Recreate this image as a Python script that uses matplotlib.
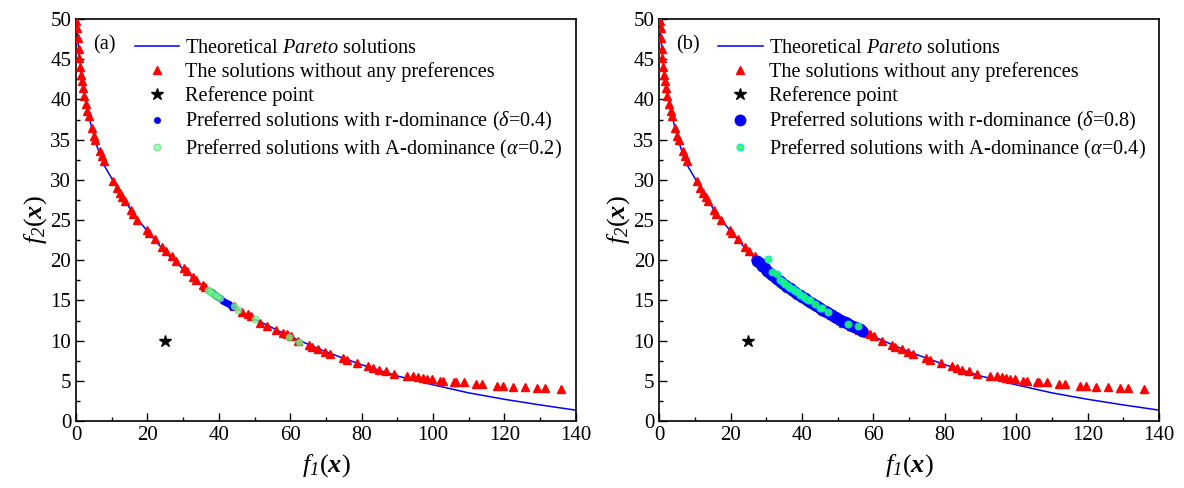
import numpy as np
import matplotlib
matplotlib.use('Agg')
import matplotlib.pyplot as plt
from matplotlib.lines import Line2D
from matplotlib.ticker import MultipleLocator

plt.rcParams['font.family'] = 'Liberation Serif'
plt.rcParams['mathtext.fontset'] = 'custom'
plt.rcParams['mathtext.rm'] = 'Liberation Serif'
plt.rcParams['mathtext.it'] = 'Liberation Serif:italic'
plt.rcParams['mathtext.sf'] = 'Liberation Serif:italic'  # italic digits for subscripts
plt.rcParams['mathtext.bf'] = 'Liberation Serif:bold:italic'

# theoretical Pareto front
pareto_f1 = [0, 0.3, 0.7, 1.2, 2.0, 3.0, 4.5, 6.0, 8.0, 10.5, 13.0, 16.0, 20.0, 25.0,
             30.0, 35.0, 40.0, 45.0, 50.0, 60.0, 70.0, 80.0, 90.0, 100.0, 110.0, 120.0,
             130.0, 140.0]
pareto_f2 = [50.0, 48.5, 46.4, 44.3, 41.4, 39.0, 36.3, 34.0, 31.7, 29.8, 27.9, 25.8, 23.6, 21.0,
             18.9, 17.0, 15.4, 14.0, 12.7, 10.5, 8.6, 7.0, 5.6, 4.5, 3.5, 2.7,
             2.0, 1.35]

# solutions without any preferences (red triangles)
free_f1 = [0.1, 0.36, 0.5, 0.7, 0.9, 1.1, 1.4, 1.6, 2.0, 2.3, 2.8, 3.2, 3.5, 4.4, 4.9, 5.4,
           6.7, 7.2, 7.8, 10.5, 11.5, 12.3, 13.0, 13.7, 15.3, 16.0, 17.2, 19.8, 20.5, 22.1,
           24.0, 25.2, 26.8, 28.0, 30.2, 31.0, 32.8, 33.6, 35.6, 36.1, 44.2, 46.6, 48.3, 48.9,
           51.5, 53.6, 56.0, 58.1, 59.0, 60.2, 62.3, 65.3, 66.1, 67.9, 69.7, 71.1, 74.7, 75.8,
           78.8, 81.9, 83.3, 84.9, 86.8, 89.0, 92.6, 94.5, 95.9, 97.2, 98.2, 99.6, 101.9,
           102.9, 105.8, 106.4, 108.7, 112.0, 113.6, 117.8, 119.5, 122.3, 125.7, 129.0,
           131.3, 135.8]
free_f2 = [49.8, 48.9, 47.6, 46.3, 45.2, 44.0, 43.0, 42.3, 41.4, 40.4, 39.4, 38.6, 38.0, 36.4,
           35.5, 35.0, 33.6, 33.0, 32.3, 29.8, 29.0, 28.4, 27.9, 27.4, 26.2, 25.7, 25.0, 23.8,
           23.4, 22.6, 21.6, 21.1, 20.5, 19.9, 19.0, 18.6, 17.9, 17.6, 16.9, 16.7, 14.3, 13.6,
           13.3, 13.1, 12.2, 11.8, 11.3, 11.0, 10.8, 10.6, 10.0, 9.4, 9.2, 8.9, 8.6, 8.3, 7.8,
           7.6, 7.2, 6.8, 6.6, 6.4, 6.2, 5.9, 5.6, 5.6, 5.5, 5.3, 5.2, 5.2, 5.0, 5.0, 4.9, 4.9,
           4.8, 4.6, 4.6, 4.4, 4.4, 4.2, 4.2, 4.1, 4.1, 4.0]

ref_point = (25, 10)

# (a) r-dominance delta=0.4 and A-dominance alpha=0.2
r_a_f1 = [38.0, 38.6, 39.2, 39.8, 40.3, 40.8, 41.3, 41.8, 42.3, 42.8, 43.3, 43.8]
r_a_f2 = [16.0, 15.8, 15.6, 15.4, 15.25, 15.1, 14.95, 14.8, 14.65, 14.5, 14.35, 14.2]
A_a_f1 = [37.0, 37.6, 38.2, 38.9, 39.5, 40.3, 44.3, 45.5, 50.1, 59.6, 62.5]
A_a_f2 = [16.35, 16.15, 15.95, 15.7, 15.5, 15.25, 14.25, 13.85, 12.65, 10.5, 9.8]

# (b) r-dominance delta=0.8 and A-dominance alpha=0.4
r_b_f1 = [27.5, 28.2, 28.9, 29.6, 30.3, 31.0, 31.7, 32.4, 33.1, 33.8, 34.5, 35.2, 35.9,
          36.6, 37.3, 38.0, 38.7, 39.4, 40.1, 40.8, 41.5, 42.2, 42.9, 43.6, 44.3, 45.0,
          45.7, 46.4, 47.1, 47.8, 48.5, 49.2, 49.9, 50.6, 51.3, 52.0, 52.7, 53.4, 54.1,
          54.8, 55.5, 56.2, 56.8]
r_b_f2 = [19.9, 19.6, 19.3, 19.0, 18.7, 18.4, 18.2, 17.9, 17.7, 17.4, 17.2, 16.95, 16.7,
          16.5, 16.3, 16.05, 15.85, 15.65, 15.45, 15.25, 15.05, 14.85, 14.65, 14.45, 14.25,
          14.05, 13.85, 13.65, 13.5, 13.3, 13.15, 12.95, 12.8, 12.6, 12.45, 12.3, 12.15,
          12.0, 11.85, 11.7, 11.55, 11.4, 11.25]
A_b_f1 = [30.6, 31.6, 33.1, 33.9, 34.6, 35.3, 36.0, 36.7, 37.4, 38.1, 38.8, 39.5, 40.2,
          40.9, 41.6, 42.3, 43.7, 45.1, 45.6, 47.4, 52.8, 55.8]
A_b_f2 = [20.1, 18.5, 18.3, 17.6, 17.3, 17.1, 16.8, 16.6, 16.4, 16.2, 16.0, 15.7, 15.5,
          15.3, 15.1, 15.0, 14.6, 14.1, 14.0, 13.5, 12.1, 11.8]

text_font = 14.6


def plot_panel(ax, tag, r_f1, r_f2, A_f1, A_f2, r_label, A_label, r_size, A_style):
    ax.plot(pareto_f1, pareto_f2, color='blue', lw=1.1, zorder=2)
    ax.plot(free_f1, free_f2, '^', color='red', ms=6, mec='red', zorder=3)
    ax.plot(*ref_point, '*', color='black', ms=9, zorder=3)
    ax.plot(r_f1, r_f2, 'o', color='blue', ms=r_size, mec='blue', zorder=4)
    ax.plot(A_f1, A_f2, 'o', ms=5, zorder=5, **A_style)

    ax.set_xlim(0, 140)
    ax.set_ylim(0, 50)
    ax.xaxis.set_major_locator(MultipleLocator(20))
    ax.xaxis.set_minor_locator(MultipleLocator(10))
    ax.yaxis.set_major_locator(MultipleLocator(5))
    ax.yaxis.set_minor_locator(MultipleLocator(2.5))
    ax.tick_params(which='both', direction='in', labelsize=15, top=False, right=False)
    ax.tick_params(which='major', length=6, width=1)
    ax.tick_params(which='minor', length=3, width=1)
    for s in ax.spines.values():
        s.set_linewidth(1.2)
    ax.set_xlabel(r'$f_{\mathsf{1}}(\mathbf{x})$', fontsize=19, labelpad=5)
    ax.set_ylabel(r'$f_{\mathsf{2}}(\mathbf{x})$', fontsize=19, labelpad=1)

    ax.text(0.034, 0.935, tag, transform=ax.transAxes, fontsize=text_font, va='center')

    handles = [
        Line2D([], [], color='blue', lw=1.1),
        Line2D([], [], ls='none', marker='^', color='red', ms=6),
        Line2D([], [], ls='none', marker='*', color='black', ms=9),
        Line2D([], [], ls='none', marker='o', color='blue', ms=r_size),
        Line2D([], [], ls='none', marker='o', ms=5, **A_style),
    ]
    labels = [r'Theoretical $\mathit{Pareto}$ solutions',
              'The solutions without any preferences',
              'Reference point', r_label, A_label]
    ax.legend(handles, labels, loc='upper left', bbox_to_anchor=(0.085, 0.99),
              frameon=False, fontsize=text_font, handlelength=2.2, handletextpad=0.3,
              labelspacing=0.2, borderpad=0.3)


fig, axes = plt.subplots(nrows=1, ncols=2, figsize=(11.84, 4.88), dpi=100)
fig.subplots_adjust(left=0.0642, right=0.9789, bottom=0.1373, top=0.961, wspace=0.167)

plot_panel(axes[0], '(a)', r_a_f1, r_a_f2, A_a_f1, A_a_f2,
           r'Preferred solutions with r-dominance ($\delta$=0.4)',
           r'Preferred solutions with A-dominance ($\alpha$=0.2)', 4,
           dict(mfc='#7dff9a', mec='#3ccf5a', mew=0.6, alpha=0.75))
plot_panel(axes[1], '(b)', r_b_f1, r_b_f2, A_b_f1, A_b_f2,
           r'Preferred solutions with r-dominance ($\delta$=0.8)',
           r'Preferred solutions with A-dominance ($\alpha$=0.4)', 7.5,
           dict(mfc='#22ff66', mec='#00e0e0', mew=0.8, alpha=0.9))

fig.savefig('out.png', dpi=100)
